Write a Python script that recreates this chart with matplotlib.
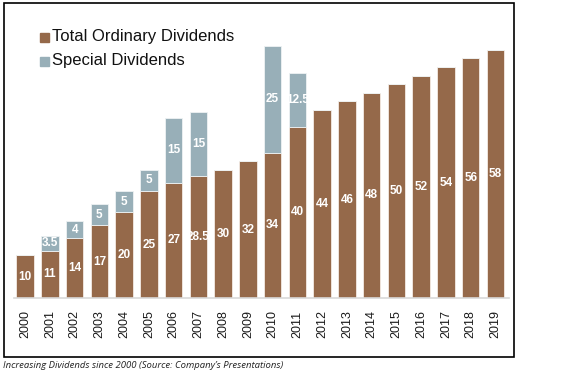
import matplotlib
matplotlib.use("Agg")
import matplotlib.pyplot as plt
from matplotlib.patches import Rectangle
import numpy as np

years = [str(y) for y in range(2000, 2020)]
ordinary = [10, 11, 14, 17, 20, 25, 27, 28.5, 30, 32, 34, 40, 44, 46, 48, 50, 52, 54, 56, 58]
special = [0, 3.5, 4, 5, 5, 5, 15, 15, 0, 0, 25, 12.5, 0, 0, 0, 0, 0, 0, 0, 0]

BROWN = "#95694A"
GREY = "#98AFB8"
NARROW = ["Liberation Sans Narrow", "Liberation Sans", "DejaVu Sans"]

W, H = 587, 374
fig = plt.figure(figsize=(W / 100, H / 100), dpi=100)
ax = fig.add_axes([14 / W, (H - 298) / H, (509 - 14) / W, (298 - 20) / H])

x = np.arange(len(years))
ax.bar(x, ordinary, width=0.7, color=BROWN, edgecolor="#f3ebe4", linewidth=0.6)
ax.bar(x, special, width=0.7, bottom=ordinary, color=GREY, edgecolor="#eef2f3", linewidth=0.6)

for i, (o, s) in enumerate(zip(ordinary, special)):
    ax.text(i, o / 2, f"{o:g}", ha="center", va="center", color="white",
            fontsize=8.5, fontweight="bold", family=NARROW)
    if s:
        ax.text(i, o + s / 2, f"{s:g}", ha="center", va="center", color="white",
                fontsize=8.5, fontweight="bold", family=NARROW)

ax.set_xlim(-0.45, 19.55)
ax.set_ylim(0, 65)
ax.set_xticks(x)
ax.set_xticklabels(years, rotation=90, fontsize=9, family=["Liberation Sans"], color="#1a1a1a")
ax.tick_params(axis="x", length=0, pad=9)
ax.set_yticks([])
for side in ["top", "right", "left"]:
    ax.spines[side].set_visible(False)
ax.spines["bottom"].set_color("#d9d9d9")
ax.spines["bottom"].set_linewidth(1.2)

# legend
for yy, col, lab in [(37, BROWN, "Total Ordinary Dividends"), (61, GREY, "Special Dividends")]:
    fig.patches.append(Rectangle((40 / W, (H - yy - 4.5) / H), 9 / W, 9 / H,
                                 transform=fig.transFigure, color=col))
    fig.text(52 / W, (H - yy) / H, lab, fontsize=12, family=["Liberation Sans"],
             color="#111111", va="center", ha="left")

# frame
fig.patches.append(Rectangle((4 / W, (H - 357) / H), (514 - 4) / W, (357 - 3) / H,
                             transform=fig.transFigure, fill=False, edgecolor="black", linewidth=1.2))

fig.text(3 / W, (H - 366) / H, "Increasing Dividends since 2000 (Source: Company\u2019s Presentations)",
         fontsize=6.8, style="italic", family=["Open Sans", "DejaVu Sans"], va="center", ha="left",
         color="#222222")

fig.savefig("out.png", dpi=100)
